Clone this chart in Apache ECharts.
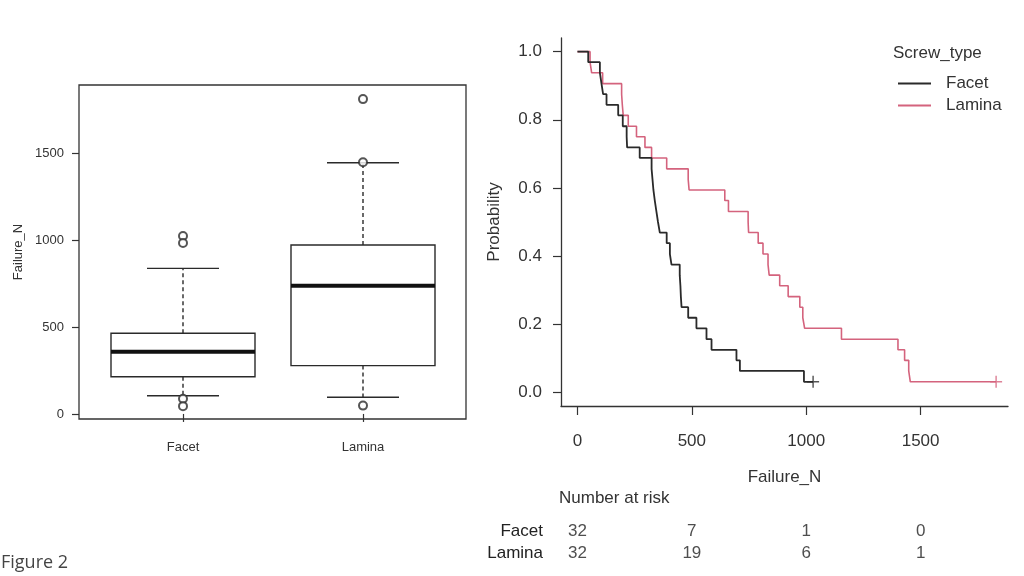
<!DOCTYPE html>
<html>
<head>
<meta charset="utf-8">
<script src="https://cdn.jsdelivr.net/npm/echarts@6/dist/echarts.min.js"></script>
<style>
html,body{margin:0;padding:0;background:#fff;}
#chart{width:1024px;height:576px;}
</style>
</head>
<body>
<div id="chart"></div>
<script>
// ---------- Data ----------
// Left panel: boxplot of Failure_N by screw type
const boxCategories = ['Facet', 'Lamina'];
const whiskerLow  = [105, 96];
const quartile1   = [214, 278];
const medians     = [358, 737];
const quartile3   = [464, 971];
const whiskerHigh = [837, 1444];
const outlierCat  = [0, 0, 0, 0, 1, 1, 1];
const outlierVal  = [1023, 983, 87, 45, 1810, 1447, 48];
const boxTicks    = [0, 500, 1000, 1500];

// Right panel: Kaplan-Meier curves (time, survival probability)
const facetTime = [0, 47, 98, 105, 112, 127, 178, 198, 215, 217, 272, 324, 328, 332, 338, 345, 352, 360, 390, 404, 411, 447, 450, 452, 455, 484, 520, 564, 586, 695, 710, 990, 1030];
const facetSurv = [1, 0.969, 0.938, 0.906, 0.875, 0.844, 0.813, 0.781, 0.75, 0.719, 0.688, 0.656, 0.625, 0.594, 0.563, 0.531, 0.5, 0.469, 0.438, 0.406, 0.375, 0.344, 0.313, 0.281, 0.25, 0.219, 0.188, 0.156, 0.125, 0.094, 0.063, 0.031, 0.031];
const laminaTime = [0, 55, 62, 110, 193, 196, 200, 222, 258, 295, 324, 390, 484, 488, 644, 660, 746, 748, 790, 811, 833, 838, 884, 921, 972, 985, 993, 1154, 1401, 1430, 1448, 1455, 1830];
const laminaSurv = [1, 0.969, 0.938, 0.906, 0.875, 0.844, 0.813, 0.781, 0.75, 0.719, 0.688, 0.656, 0.625, 0.594, 0.563, 0.531, 0.5, 0.469, 0.438, 0.406, 0.375, 0.344, 0.313, 0.281, 0.25, 0.219, 0.188, 0.156, 0.125, 0.094, 0.063, 0.031, 0.031];
const censorFacet  = [[1030, 0.031]];
const censorLamina = [[1830, 0.031]];
const kmXTicks = [0, 500, 1000, 1500];
const kmYTicks = [0, 0.2, 0.4, 0.6, 0.8, 1.0];

// Number at risk table
const riskGroups = ['Facet', 'Lamina'];
const riskTimes  = [0, 500, 1000, 1500];
const facetRisk  = [32, 7, 1, 0];
const laminaRisk = [32, 19, 6, 1];

// ---------- Build ----------
const FONT = 'Liberation Sans';
const INK = '#2a2a2a';
const PINK = '#d4637d';

const boxData = boxCategories.map((c, i) => [i, whiskerLow[i], quartile1[i], medians[i], quartile3[i], whiskerHigh[i]]);
const outlierData = outlierCat.map((c, i) => [c, outlierVal[i]]);
const facetLine = facetTime.map((t, i) => [t, facetSurv[i]]);
const laminaLine = laminaTime.map((t, i) => [t, laminaSurv[i]]);
const riskData = [];
riskTimes.forEach((t, i) => {
  riskData.push([t, 'Facet', facetRisk[i]]);
  riskData.push([t, 'Lamina', laminaRisk[i]]);
});

const plainNum = v => String(v);
const plusPath = 'path://M4.4,0H5.6V4.4H10V5.6H5.6V10H4.4V5.6H0V4.4H4.4Z';

const chart = echarts.init(document.getElementById('chart'), null, {renderer: 'canvas'});
chart.setOption({
  animation: false,
  backgroundColor: '#ffffff',
  textStyle: {fontFamily: FONT},
  grid: [
    {left: 79, top: 85, width: 387, height: 334, show: true, borderColor: '#333', borderWidth: 1.3, backgroundColor: 'transparent'},
    {left: 93, top: 85, width: 360, height: 334},
    {left: 561, top: 38, right: 16, bottom: 170},
    {left: 561, top: 521, right: 16, height: 43}
  ],
  xAxis: [
    {gridIndex: 0, type: 'value', show: false, min: 0, max: 1},
    {gridIndex: 1, type: 'category', data: boxCategories,
      axisLine: {show: false},
      axisTick: {show: true, alignWithLabel: true, length: 8, lineStyle: {color: '#333', width: 1.2}},
      axisLabel: {fontSize: 13, color: '#333', margin: 22, interval: 0},
      splitLine: {show: false}},
    {gridIndex: 2, type: 'value', min: -72, max: 1882,
      axisLine: {show: true, onZero: false, lineStyle: {color: '#333', width: 1.3}},
      axisTick: {show: true, customValues: kmXTicks, length: 9, lineStyle: {color: '#333', width: 1.2}},
      axisLabel: {customValues: kmXTicks, fontSize: 17, color: '#333', margin: 27, formatter: plainNum},
      splitLine: {show: false},
      name: 'Failure_N', nameLocation: 'middle', nameGap: 63,
      nameTextStyle: {fontSize: 17, color: '#333'}},
    {gridIndex: 3, type: 'value', min: -72, max: 1882, show: false}
  ],
  yAxis: [
    {gridIndex: 0, type: 'value', min: -29, max: 1891,
      axisLine: {show: false, onZero: false},
      axisTick: {show: true, customValues: boxTicks, length: 7, lineStyle: {color: '#333', width: 1.2}},
      axisLabel: {customValues: boxTicks, fontSize: 13, color: '#333', margin: 15, formatter: plainNum},
      splitLine: {show: false},
      name: 'Failure_N', nameLocation: 'middle', nameGap: 54, nameRotate: 90,
      nameTextStyle: {fontSize: 13, color: '#333'}},
    {gridIndex: 1, type: 'value', min: -29, max: 1891, show: false},
    {gridIndex: 2, type: 'value', min: -0.04, max: 1.04,
      axisLine: {show: true, onZero: false, lineStyle: {color: '#333', width: 1.3}},
      axisTick: {show: true, customValues: kmYTicks, length: 8, lineStyle: {color: '#333', width: 1.2}},
      axisLabel: {customValues: kmYTicks, fontSize: 17, color: '#333', margin: 19,
        formatter: v => v.toFixed(1)},
      splitLine: {show: false},
      name: 'Probability', nameLocation: 'middle', nameGap: 58, nameRotate: 90,
      nameTextStyle: {fontSize: 17, color: '#333'}},
    {gridIndex: 3, type: 'category', data: riskGroups, inverse: true,
      axisLine: {show: false}, axisTick: {show: false},
      axisLabel: {fontSize: 17, color: '#222', margin: 18, interval: 0}}
  ],
  legend: {
    data: ['Facet', 'Lamina'], orient: 'vertical', left: 893, top: 70,
    icon: 'rect', itemWidth: 33, itemHeight: 2, itemGap: 5,
    textStyle: {fontSize: 17, color: '#333', padding: [0, 0, 0, 10]}
  },
  graphic: [
    {type: 'text', left: 893, top: 45, style: {text: 'Screw_type', fontSize: 17, fill: '#333', fontFamily: FONT}},
    {type: 'text', left: 559, top: 490, style: {text: 'Number at risk', fontSize: 17, fill: '#333', fontFamily: FONT}},
    {type: 'text', left: 1, top: 554, style: {text: 'Figure 2', fontSize: 18, fill: '#444', fontFamily: 'Open Sans'}}
  ],
  series: [
    {type: 'custom', xAxisIndex: 1, yAxisIndex: 1, data: boxData, z: 3,
      renderItem: function (params, api) {
        const idx = api.value(0);
        const cx = api.coord([idx, 0])[0];
        const bw = api.size([1, 0])[0] * 0.8;
        const y = v => api.coord([idx, v])[1];
        const yLo = y(api.value(1)), yQ1 = y(api.value(2)), yMed = y(api.value(3)), yQ3 = y(api.value(4)), yHi = y(api.value(5));
        const dash = {stroke: INK, lineWidth: 1.4, lineDash: [4, 3]};
        const solid = {stroke: INK, lineWidth: 1.4};
        return {type: 'group', children: [
          {type: 'line', shape: {x1: cx, y1: yQ3, x2: cx, y2: yHi}, style: dash},
          {type: 'line', shape: {x1: cx, y1: yQ1, x2: cx, y2: yLo}, style: dash},
          {type: 'line', shape: {x1: cx - bw / 4, y1: yHi, x2: cx + bw / 4, y2: yHi}, style: solid},
          {type: 'line', shape: {x1: cx - bw / 4, y1: yLo, x2: cx + bw / 4, y2: yLo}, style: solid},
          {type: 'rect', shape: {x: cx - bw / 2, y: yQ3, width: bw, height: yQ1 - yQ3}, style: {fill: '#fff', stroke: INK, lineWidth: 1.4}},
          {type: 'line', shape: {x1: cx - bw / 2, y1: yMed, x2: cx + bw / 2, y2: yMed}, style: {stroke: '#111', lineWidth: 4}}
        ]};
      }},
    {type: 'scatter', xAxisIndex: 1, yAxisIndex: 1, data: outlierData, z: 4,
      symbol: 'emptyCircle', symbolSize: 8,
      itemStyle: {color: INK, borderColor: INK, borderWidth: 1.3}},
    {name: 'Facet', type: 'line', xAxisIndex: 2, yAxisIndex: 2, data: facetLine,
      step: 'end', showSymbol: false, symbol: 'none', z: 4,
      lineStyle: {color: INK, width: 1.8}, itemStyle: {color: INK}},
    {name: 'Lamina', type: 'line', xAxisIndex: 2, yAxisIndex: 2, data: laminaLine,
      step: 'end', showSymbol: false, symbol: 'none', z: 3,
      lineStyle: {color: PINK, width: 1.6}, itemStyle: {color: PINK}},
    {type: 'scatter', xAxisIndex: 2, yAxisIndex: 2, data: censorFacet, symbol: plusPath, symbolSize: 12,
      itemStyle: {color: INK}, z: 5},
    {type: 'scatter', xAxisIndex: 2, yAxisIndex: 2, data: censorLamina, symbol: plusPath, symbolSize: 12,
      itemStyle: {color: PINK}, z: 5},
    {type: 'scatter', xAxisIndex: 3, yAxisIndex: 3, data: riskData, symbolSize: 0.1,
      itemStyle: {color: 'transparent'},
      label: {show: true, position: 'inside', formatter: p => String(p.value[2]), fontSize: 17, color: '#222', fontFamily: FONT}}
  ]
});
</script>
</body>
</html>
